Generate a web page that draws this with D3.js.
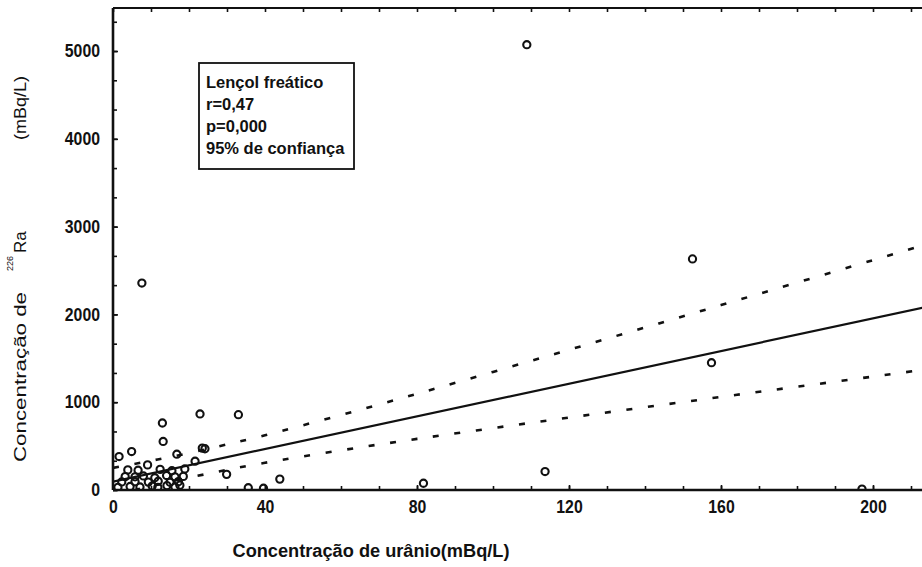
<!DOCTYPE html>
<html>
<head>
<meta charset="utf-8">
<script src="https://cdn.jsdelivr.net/npm/d3@7"></script>
<style>
  html, body { margin: 0; padding: 0; background: #fff; }
  svg { display: block; }
</style>
</head>
<body>
<svg id="chart" width="922" height="567"></svg>
<script>
// Uranium (x) and 226Ra (y) concentrations, mBq/L
const uranium = [108.9, 7.6, 152.5, 157.5, 81.7, 113.7, 197.1, 22.9, 33.0, 13.0, 13.2, 1.6, 4.9, 16.8,
  23.5, 24.2, 9.1, 21.6, 29.9, 43.9, 35.6, 39.6,
  1.3, 4.5, 7.1, 10.3, 11.8, 14.2, 16.3, 17.6,
  3.2, 5.8, 8.0, 11.0, 14.1, 16.3, 18.5,
  3.9, 6.6, 12.4, 15.5, 18.9,
  2.3, 5.8, 9.3, 11.9, 15.0, 17.2];
const radium = [5072, 2357, 2632, 1450, 77, 210, 10, 866, 858, 763, 553, 381, 438, 408,
  477, 470, 286, 328, 178, 124, 26, 20,
  30, 40, 35, 45, 30, 50, 35, 55,
  152, 150, 160, 140, 165, 150, 155,
  229, 225, 235, 220, 240,
  92, 95, 90, 100, 88, 95];

// Regression line and 95% confidence limits
const fitX = [0, 215];
const fitY = [95, 2094];
const bandX = [0, 10, 20, 30, 40, 60, 80, 100, 120, 140, 160, 180, 200, 215];
const bandUpper = [252, 333, 421, 519, 624, 854, 1096, 1345, 1597, 1851, 2106, 2362, 2618, 2810];
const bandLower = [-62, 43, 141, 229, 310, 452, 582, 705, 825, 943, 1060, 1176, 1292, 1380];

// Axis ticks
const xTicks = [0, 40, 80, 120, 160, 200];
const xMinor = d3.range(0, 220, 10);
const yTicks = [0, 1000, 2000, 3000, 4000, 5000];
const yMinor = d3.range(0, 5500, 1000 / 3);

// Legend text
const legendLines = ["Lençol freático", "r=0,47", "p=0,000", "95% de confiança"];

const FONT = "'Liberation Sans', Arial, Helvetica, sans-serif";
const INK = "#111";

const svg = d3.select("#chart");
const plotLeft = 113, plotBottom = 490, plotTop = 8;
const x = d3.scaleLinear().domain([0, 215]).range([plotLeft, plotLeft + 215 * 3.8]);
const y = d3.scaleLinear().domain([0, 5490]).range([plotBottom, plotTop]);

svg.append("defs").append("clipPath").attr("id", "plotClip")
  .append("rect").attr("x", plotLeft).attr("y", plotTop)
  .attr("width", 922 - plotLeft).attr("height", plotBottom - plotTop);

const plot = svg.append("g").attr("clip-path", "url(#plotClip)");

// confidence limits
const bandLine = d3.line().curve(d3.curveNatural);
[bandUpper, bandLower].forEach(arr => {
  plot.append("path")
    .attr("d", bandLine(bandX.map((v, i) => [x(v), y(arr[i])])))
    .attr("fill", "none").attr("stroke", INK)
    .attr("stroke-width", 2.6).attr("stroke-dasharray", "6,15.7");
});

// regression line
plot.append("path")
  .attr("d", d3.line()(fitX.map((v, i) => [x(v), y(fitY[i])])))
  .attr("fill", "none").attr("stroke", INK).attr("stroke-width", 2.2);

// points
plot.selectAll("circle.pt").data(uranium.map((u, i) => [u, radium[i]]))
  .join("circle").attr("class", "pt")
  .attr("cx", d => x(d[0])).attr("cy", d => y(d[1])).attr("r", 3.6)
  .attr("fill", "none").attr("stroke", INK).attr("stroke-width", 2.1);

// frame lines
svg.append("line").attr("x1", plotLeft).attr("x2", plotLeft).attr("y1", plotTop).attr("y2", plotBottom)
  .attr("stroke", INK).attr("stroke-width", 2.6);
svg.append("line").attr("x1", plotLeft).attr("x2", 922).attr("y1", plotBottom).attr("y2", plotBottom)
  .attr("stroke", INK).attr("stroke-width", 2.6);
svg.append("line").attr("x1", plotLeft).attr("x2", 922).attr("y1", plotTop).attr("y2", plotTop)
  .attr("stroke", INK).attr("stroke-width", 2.2);

// tick label styling: condensed bold digits
function styleLabels(g) {
  g.attr("font-size", null).attr("font-family", null);
  g.selectAll("text")
    .attr("font-family", FONT).attr("font-size", 18).attr("font-weight", "bold").attr("fill", INK)
    .each(function () {
      const t = d3.select(this);
      const s = t.text();
      if (s.length) t.attr("textLength", s.length * 8.8).attr("lengthAdjust", "spacingAndGlyphs");
    });
}

// axes
svg.append("g").attr("transform", `translate(0,${plotBottom})`)
  .call(d3.axisBottom(x).tickValues(xTicks).tickSize(-5).tickPadding(10).tickFormat(d3.format("d")))
  .call(styleLabels);
svg.append("g").attr("transform", `translate(0,${plotBottom})`)
  .call(d3.axisBottom(x).tickValues(xMinor).tickSize(-4).tickFormat(""));
svg.append("g").attr("transform", `translate(0,${plotTop})`)
  .call(d3.axisTop(x).tickValues(xMinor).tickSize(-4).tickFormat(""));
svg.append("g").attr("transform", `translate(${plotLeft},0)`)
  .call(d3.axisLeft(y).tickValues(yTicks).tickSize(-5).tickPadding(13).tickFormat(d3.format("d")))
  .call(styleLabels);
svg.append("g").attr("transform", `translate(${plotLeft},0)`)
  .call(d3.axisLeft(y).tickValues(yMinor).tickSize(-4).tickFormat(""));

svg.selectAll(".domain").remove();
svg.selectAll(".tick line").attr("stroke", INK).attr("stroke-width", 1.6);

// axis titles
svg.append("text").attr("x", 371).attr("y", 557).attr("text-anchor", "middle")
  .attr("font-family", FONT).attr("font-weight", "bold").attr("font-size", 18).attr("fill", INK)
  .attr("textLength", 277).attr("lengthAdjust", "spacingAndGlyphs")
  .text("Concentração de urânio(mBq/L)");

const yt = svg.append("g").attr("transform", "translate(26,462) rotate(-90)")
  .attr("font-family", FONT).attr("fill", INK);
yt.append("text").attr("x", 0).attr("y", 0).attr("font-size", 17)
  .attr("textLength", 170).attr("lengthAdjust", "spacingAndGlyphs").text("Concentração de");
yt.append("text").attr("x", 191).attr("y", -13).attr("font-size", 9).text("226");
yt.append("text").attr("x", 209).attr("y", 0).attr("font-size", 17).text("Ra");
yt.append("text").attr("x", 322).attr("y", 0).attr("font-size", 17)
  .attr("textLength", 64).attr("lengthAdjust", "spacingAndGlyphs").text("(mBq/L)");

// legend box
svg.append("rect").attr("x", 199).attr("y", 63).attr("width", 155).attr("height", 106)
  .attr("fill", "#fff").attr("stroke", INK).attr("stroke-width", 1.8);
svg.selectAll("text.leg").data(legendLines).join("text").attr("class", "leg")
  .attr("x", 206).attr("y", (d, i) => 88 + i * 22)
  .attr("font-family", FONT).attr("font-weight", "bold").attr("font-size", 16.5).attr("fill", INK)
  .text(d => d);
</script>
</body>
</html>
